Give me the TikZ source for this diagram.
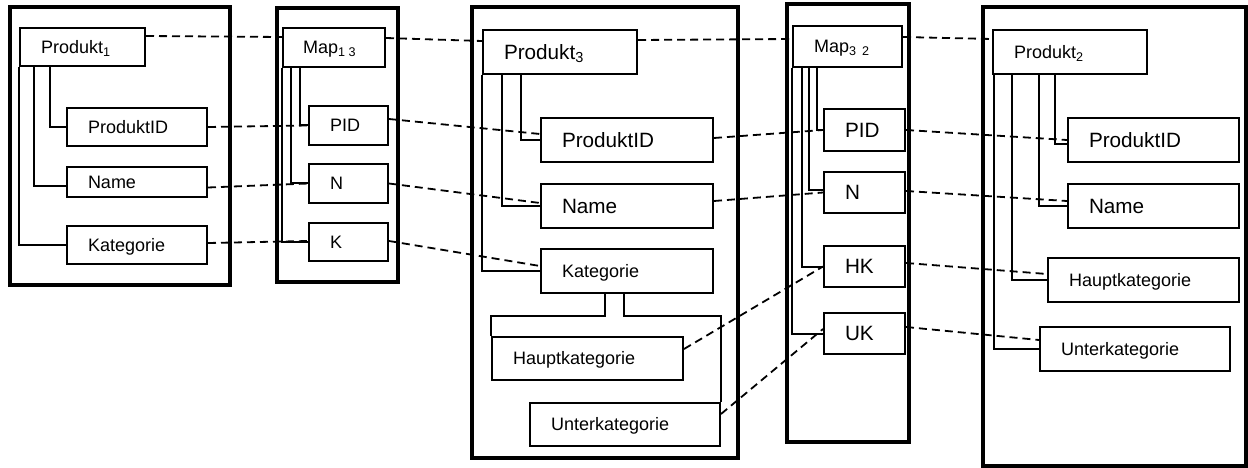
\documentclass[tikz,border=0pt]{standalone}
\usepackage{fontspec}
\setmainfont{Liberation Sans}
\usetikzlibrary{calc}
\newcommand\fsmall{\fontsize{18pt}{21pt}\selectfont}
\newcommand\flarge{\fontsize{20.7pt}{24pt}\selectfont}
% \Bx{name}{x1}{y1}{x2}{y2}{font style}{text}: framed field box, text left-aligned
\newcommand\Bx[7]{%
  \pgfmathsetmacro\bxw{#4-#2}%
  \pgfmathsetmacro\bxh{#5-#3}%
  \pgfmathsetmacro\bxt{#4-#2-42}%
  \node[fieldbox,#6,minimum width=\bxw pt,minimum height=\bxh pt,text width=\bxt pt] (#1) at (#2,#3) {#7};}
\tikzset{
  fieldbox/.style={draw, line width=2pt, anchor=north west, inner xsep=21pt, inner ysep=0pt, align=left, text depth=0pt},
  sm/.style={font=\fsmall, text height=12.9pt},
  lg/.style={font=\flarge, text height=14.8pt},
  frame/.style={draw, line width=4.2pt},
  tree/.style={line width=2pt},
  conn/.style={line width=1.8pt, dash pattern=on 8pt off 5pt}
}
\begin{document}
\begin{tikzpicture}[x=1pt, y=-1pt]
\useasboundingbox (0,0) rectangle (1248,468);
\fill[white] (0,0) rectangle (1248,468);

% outer frames of the five schemas
\draw[frame] (10,7) rectangle (230,285);
\draw[frame] (277,8) rectangle (398,282);
\draw[frame] (472,7) rectangle (738,458);
\draw[frame] (787,4) rectangle (909,442);
\draw[frame] (983,7) rectangle (1246,466);

% schema Produkt 1
\Bx{p1}{19}{27}{144}{65}{sm}{Produkt\textsubscript{1}}
\Bx{id1}{66}{107}{206}{145}{sm}{ProduktID}
\Bx{nm1}{66}{166}{206}{196}{sm}{Name}
\Bx{kat1}{66}{225}{206}{263}{sm}{Kategorie}

% mapping 1 -> 3
\Bx{m13}{282}{27}{384}{66}{sm}{}
\begin{scope}
  \clip (m13.north west) rectangle ([yshift=11pt]m13.south east);
  \node[sm, anchor=west, inner sep=0pt, text depth=0pt] (m13t) at ([xshift=21pt]m13.west) {Map\textsubscript{1 3}};
\end{scope}
\Bx{pid13}{308}{105}{387}{144}{sm}{PID}
\Bx{n13}{308}{163}{387}{202}{sm}{N}
\Bx{k13}{308}{222}{387}{260}{sm}{K}

% schema Produkt 3
\Bx{p3}{482}{29}{636}{73}{lg}{Produkt\textsubscript{3}}
\Bx{id3}{540}{117}{712}{161}{lg}{ProduktID}
\Bx{nm3}{540}{183}{712}{227}{lg}{Name}
\Bx{kat3}{540}{248}{712}{292}{sm}{Kategorie}
\Bx{hk3}{491}{336}{682}{379}{sm}{Hauptkategorie}
\Bx{uk3}{529}{402}{719}{445}{sm}{Unterkategorie}

% mapping 3 -> 2
\Bx{m32}{792}{25}{901}{66}{sm}{Map\textsubscript{3 2}}
\Bx{pid32}{823}{108}{904}{150}{lg}{PID}
\Bx{n32}{823}{171}{904}{212}{lg}{N}
\Bx{hk32}{823}{245}{904}{286}{lg}{HK}
\Bx{uk32}{823}{312}{904}{353}{lg}{UK}

% schema Produkt 2
\Bx{p2}{992}{29}{1146}{73}{sm}{Produkt\textsubscript{2}}
\Bx{id2}{1067}{117}{1238}{161}{lg}{ProduktID}
\Bx{nm2}{1067}{183}{1238}{227}{lg}{Name}
\Bx{hk2}{1047}{257}{1238}{301}{sm}{Hauptkategorie}
\Bx{uk2}{1039}{326}{1229}{370}{sm}{Unterkategorie}

% hierarchy lines
\draw[tree] (p1.south west) |- (kat1.west);
\draw[tree] ([xshift=15pt]p1.south west) |- ([yshift=-4pt]nm1.west);
\draw[tree] ([xshift=31pt]p1.south west) |- (id1.west);

\draw[tree] (m13.south west) |- (k13.west);
\draw[tree] ([xshift=9pt]m13.south west) |- (n13.west);
\draw[tree] ([xshift=18pt]m13.south west) |- (pid13.west);

\draw[tree] (p3.south west) |- (kat3.west);
\draw[tree] ([xshift=20pt]p3.south west) |- (nm3.west);
\draw[tree] ([xshift=39pt]p3.south west) |- (id3.west);
\draw[tree] ([xshift=65pt]kat3.south west) -- ++(0,22) -| (hk3.north west);
\draw[tree] ([xshift=84pt]kat3.south west) -- ++(0,22) -| (uk3.north east);

\draw[tree] (m32.south west) |- (uk32.west);
\draw[tree] ([xshift=10pt]m32.south west) |- (hk32.west);
\draw[tree] ([xshift=17pt]m32.south west) |- ([yshift=3pt]n32.west);
\draw[tree] ([xshift=25pt]m32.south west) |- (pid32.west);

\draw[tree] ([xshift=2pt]p2.south west) |- (uk2.west);
\draw[tree] ([xshift=20pt]p2.south west) |- (hk2.west);
\draw[tree] ([xshift=47pt]p2.south west) |- (nm2.west);
\draw[tree] ([xshift=63pt]p2.south west) |- ([yshift=-4pt]id2.west);

% correspondences
\draw[conn] ([yshift=11pt]p1.east) -- ([yshift=10.5pt]m13.west);
\draw[conn] ([yshift=9.5pt]m13.east) -- ([yshift=11pt]p3.west);
\draw[conn] ([yshift=12pt]p3.east) -- ([yshift=7.5pt]m32.west);
\draw[conn] ([yshift=9.5pt]m32.east) -- ([yshift=13pt]p2.west);

\draw[conn] (id1.east) -- (pid13.west);
\draw[conn] ([yshift=6.5pt]pid13.east) -- ([yshift=6pt]id3.west);
\draw[conn] ([yshift=2pt]id3.east) -- (pid32.west);
\draw[conn] (pid32.east) -- (id2.west);

\draw[conn] ([yshift=-5.5pt]nm1.east) -- (n13.west);
\draw[conn] (n13.east) -- ([yshift=3pt]nm3.west);
\draw[conn] ([yshift=5pt]nm3.east) -- (n32.west);
\draw[conn] ([yshift=1.5pt]n32.east) -- ([yshift=5pt]nm2.west);

\draw[conn] ([yshift=2pt]kat1.east) -- ([yshift=1pt]k13.west);
\draw[conn] ([yshift=1pt]k13.east) -- ([yshift=5pt]kat3.west);
\draw[conn] ([yshift=9.5pt]hk3.east) -- (hk32.west);
\draw[conn] ([yshift=10.5pt]uk3.east) -- ([yshift=4.5pt]uk32.west);
\draw[conn] ([yshift=3.5pt]hk32.east) -- ([yshift=6pt]hk2.west);
\draw[conn] ([yshift=6.5pt]uk32.east) -- ([yshift=9pt]uk2.west);
\end{tikzpicture}
\end{document}
